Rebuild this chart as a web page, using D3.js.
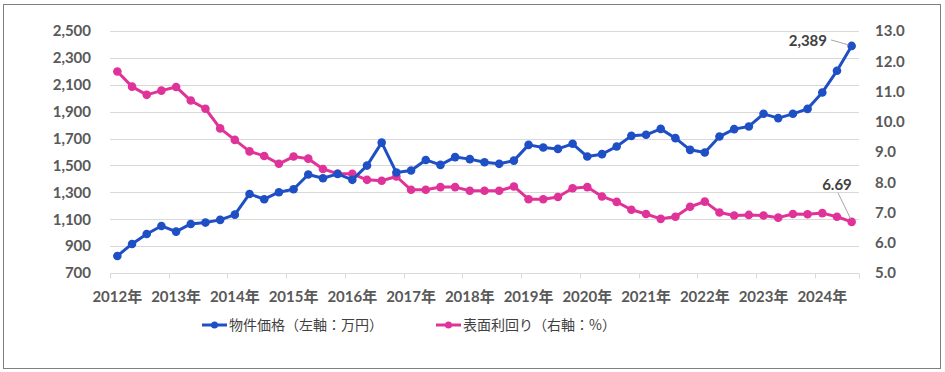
<!DOCTYPE html>
<html>
<head>
<meta charset="utf-8">
<script src="https://cdn.jsdelivr.net/npm/d3@7"></script>
<style>
  body { margin: 0; background: #fff; }
  svg { display: block; }
</style>
</head>
<body>
<script>
// quarterly 2012Q1 .. 2024Q3
const years = ["2012","2013","2014","2015","2016","2017","2018","2019","2020","2021","2022","2023","2024"];

const price = [
  827, 916, 990, 1050, 1008, 1065, 1075, 1095, 1134, 1288, 1249, 1301,
  1323, 1433, 1405, 1437, 1393, 1499, 1670, 1447, 1462, 1541, 1504, 1562,
  1547, 1524, 1512, 1536, 1653, 1633, 1623, 1661, 1566, 1584, 1641, 1720,
  1728, 1772, 1703, 1616, 1596, 1715, 1770, 1790, 1884, 1852, 1884, 1921,
  2043, 2204, 2389
];

const yieldPct = [
  11.66, 11.16, 10.89, 11.03, 11.15, 10.70, 10.43, 9.78, 9.40, 9.02, 8.87, 8.61,
  8.85, 8.78, 8.44, 8.28, 8.28, 8.08, 8.05, 8.19, 7.75, 7.75, 7.84, 7.84,
  7.72, 7.72, 7.72, 7.86, 7.44, 7.44, 7.51, 7.80, 7.84, 7.53, 7.35, 7.09,
  6.95, 6.79, 6.86, 7.19, 7.36, 7.00, 6.90, 6.92, 6.90, 6.83, 6.95, 6.94,
  6.98, 6.86, 6.69
];

const leftTicks = [700, 900, 1100, 1300, 1500, 1700, 1900, 2100, 2300, 2500];
const rightTicks = [5, 6, 7, 8, 9, 10, 11, 12, 13];

const blue = "#1f4fc4";
const pink = "#e0339a";
const fontLatin = "Lato, 'Noto Sans CJK JP', sans-serif";

const main = () => {
  const W = 945, H = 372;
  const m = { left: 110, right: 86, top: 31, bottom: 99 };

  const svg = d3.select("body").append("svg")
    .attr("width", W).attr("height", H);

  // outer frame
  svg.append("rect")
    .attr("x", 3.5).attr("y", 4.5)
    .attr("width", 937).attr("height", 364)
    .attr("fill", "#fff").attr("stroke", "#7f7f7f").attr("stroke-width", 1);

  const idx = d3.range(price.length);
  const x = d3.scaleBand()
    .domain(idx)
    .range([m.left, W - m.right]);
  const cx = i => x(i) + x.bandwidth() / 2;

  const yL = d3.scaleLinear().domain([700, 2500]).range([H - m.bottom, m.top]);
  const yR = d3.scaleLinear().domain([5, 13]).range([H - m.bottom, m.top]);

  // gridlines
  svg.append("g")
    .selectAll("line")
    .data(leftTicks)
    .join("line")
    .attr("x1", m.left).attr("x2", W - m.right)
    .attr("y1", d => Math.round(yL(d)) + 0.5)
    .attr("y2", d => Math.round(yL(d)) + 0.5)
    .attr("stroke", "#d9d9d9");

  // left axis
  const axL = svg.append("g")
    .attr("transform", `translate(${m.left - 16},0)`)
    .call(d3.axisLeft(yL).tickValues(leftTicks).tickFormat(d3.format(",")).tickSize(0));
  axL.select(".domain").remove();
  axL.selectAll("text")
    .attr("font-family", fontLatin).attr("font-size", 15).attr("font-weight", "bold")
    .attr("fill", "#595959");

  // right axis
  const axR = svg.append("g")
    .attr("transform", `translate(${W - m.right + 16},0)`)
    .call(d3.axisRight(yR).tickValues(rightTicks).tickFormat(d3.format(".1f")).tickSize(0));
  axR.select(".domain").remove();
  axR.selectAll("text")
    .attr("x", 0)
    .attr("font-family", fontLatin).attr("font-size", 15).attr("font-weight", "bold")
    .attr("fill", "#595959");

  // bottom axis: ticks between categories every 4 quarters
  const yb = Math.round(H - m.bottom) + 0.5;
  svg.append("line")
    .attr("x1", m.left).attr("x2", W - m.right)
    .attr("y1", yb).attr("y2", yb)
    .attr("stroke", "#d9d9d9");
  const tickIdx = d3.range(0, price.length, 4);
  svg.append("g")
    .selectAll("line")
    .data(tickIdx.concat([price.length]))
    .join("line")
    .attr("x1", d => Math.round(d < price.length ? x(d) : x(price.length - 1) + x.bandwidth()) + 0.5)
    .attr("x2", d => Math.round(d < price.length ? x(d) : x(price.length - 1) + x.bandwidth()) + 0.5)
    .attr("y1", yb).attr("y2", yb + 5)
    .attr("stroke", "#d9d9d9");
  svg.append("g")
    .selectAll("text")
    .data(years)
    .join("text")
    .attr("x", (d, i) => cx(i * 4))
    .attr("y", 302)
    .attr("text-anchor", "middle")
    .attr("font-family", fontLatin).attr("font-size", 15).attr("font-weight", "bold")
    .attr("fill", "#595959")
    .text(d => d + "年");

  // series
  const series = [
    { values: yieldPct, y: yR, color: pink },
    { values: price, y: yL, color: blue }
  ];
  series.forEach(s => {
    const line = d3.line().x((d, i) => cx(i)).y(d => s.y(d));
    svg.append("path")
      .datum(s.values)
      .attr("d", line)
      .attr("fill", "none")
      .attr("stroke", s.color)
      .attr("stroke-width", 3)
      .attr("stroke-linejoin", "round");
    svg.append("g")
      .selectAll("circle")
      .data(s.values)
      .join("circle")
      .attr("cx", (d, i) => cx(i))
      .attr("cy", d => s.y(d))
      .attr("r", 4.3)
      .attr("fill", s.color);
  });

  // end labels with leader lines
  const last = price.length - 1;
  const lx = cx(last);
  svg.append("line")
    .attr("x1", 831).attr("y1", yL(price[last]) - 6)
    .attr("x2", lx - 3).attr("y2", yL(price[last]) - 1)
    .attr("stroke", "#a6a6a6");
  svg.append("text")
    .attr("x", 827).attr("y", yL(price[last]) + 0)
    .attr("text-anchor", "end")
    .attr("font-family", fontLatin).attr("font-size", 15).attr("font-weight", "bold")
    .attr("fill", "#404040")
    .text(d3.format(",")(price[last]));

  svg.append("line")
    .attr("x1", 838).attr("y1", yR(yieldPct[last]) - 29)
    .attr("x2", lx - 1).attr("y2", yR(yieldPct[last]) - 3)
    .attr("stroke", "#a6a6a6");
  svg.append("text")
    .attr("x", 837).attr("y", yR(yieldPct[last]) - 32)
    .attr("text-anchor", "middle")
    .attr("font-family", fontLatin).attr("font-size", 15).attr("font-weight", "bold")
    .attr("fill", "#404040")
    .text(yieldPct[last].toFixed(2));

  // legend
  const legend = [
    { label: "物件価格（左軸：万円）", color: blue, x: 202 },
    { label: "表面利回り（右軸：%）", color: pink, x: 436 }
  ];
  const lg = svg.append("g").selectAll("g").data(legend).join("g")
    .attr("transform", d => `translate(${d.x},325)`);
  lg.append("line")
    .attr("x1", 0).attr("x2", 25)
    .attr("stroke", d => d.color).attr("stroke-width", 3);
  lg.append("circle")
    .attr("cx", 12.5).attr("r", 3.5).attr("fill", d => d.color);
  lg.append("text")
    .attr("x", 27).attr("dy", "0.35em")
    .attr("font-family", "'Noto Sans CJK JP', sans-serif").attr("font-size", 14)
    .attr("fill", "#404040")
    .text(d => d.label);
};

window.onload = main;
</script>
</body>
</html>
